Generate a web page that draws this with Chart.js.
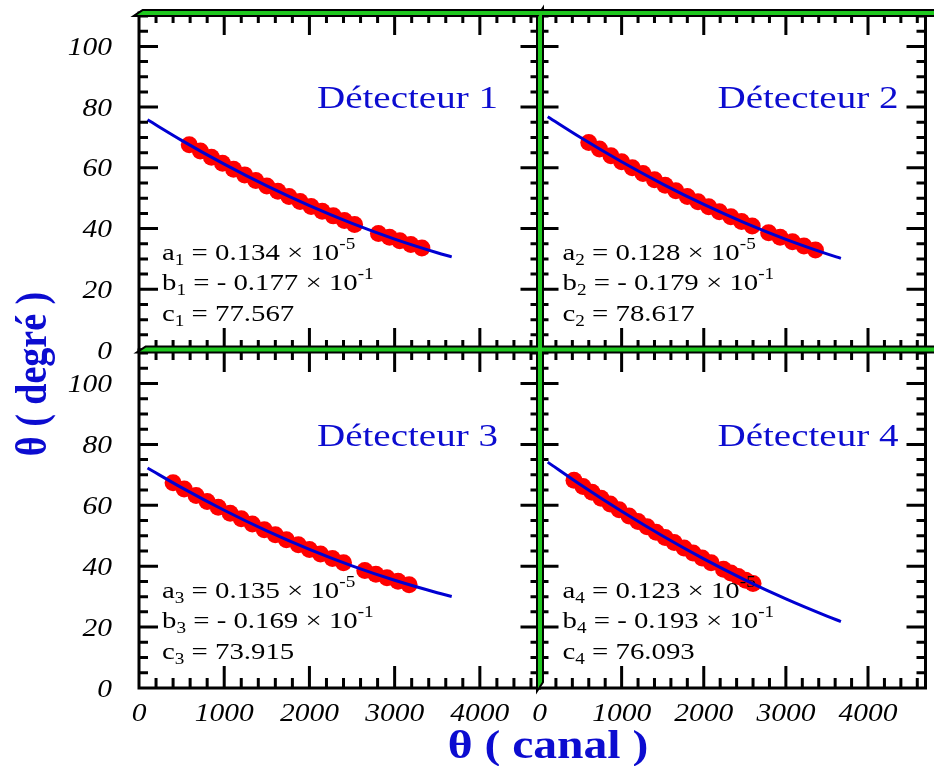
<!DOCTYPE html>
<html><head><meta charset="utf-8">
<script src="https://cdn.jsdelivr.net/npm/chart.js@4.4.1/dist/chart.umd.min.js"></script>
<style>
html,body{margin:0;padding:0;background:#fff;overflow:hidden}
#wrap{position:relative;width:934px;height:766px;background:#fff}
canvas{position:absolute;left:0;top:0}
</style></head><body><div id="wrap">
<canvas id="c0" width="934" height="766"></canvas>
<canvas id="c1" width="934" height="766"></canvas>
<canvas id="c2" width="934" height="766"></canvas>
<canvas id="c3" width="934" height="766"></canvas>
</div>
<script>
// ---------- data ----------
const xTickLabels = [0, 1000, 2000, 3000, 4000];
const yTickLabels = [0, 20, 40, 60, 80, 100];
const detectorNames = ['Détecteur 1', 'Détecteur 2', 'Détecteur 3', 'Détecteur 4'];
const xTitle = 'θ ( canal )';
const yTitle = 'θ ( degré )';

const canal1 = [590,720,850,980,1110,1240,1370,1500,1630,1760,1890,2020,2150,2280,2410,2530,2810,2940,3060,3190,3320];
const theta1 = [67.59,65.52,63.49,61.51,59.57,57.68,55.83,54.03,52.28,50.57,48.90,47.28,45.71,44.18,42.69,41.36,38.41,37.11,35.95,34.74,33.57];
const canal2 = [600,730,870,1000,1130,1260,1400,1530,1660,1800,1930,2060,2190,2330,2460,2590,2790,2930,3080,3220,3360];
const theta2 = [68.34,66.23,64.01,62.00,60.02,58.10,56.07,54.23,52.43,50.54,48.84,47.18,45.56,43.86,42.33,40.84,38.64,37.16,35.63,34.25,32.92];
const canal3 = [400,530,670,800,930,1070,1200,1330,1470,1600,1730,1870,2000,2130,2270,2400,2650,2780,2910,3040,3170];
const theta3 = [67.37,65.34,63.20,61.26,59.37,57.38,55.58,53.83,51.99,50.33,48.72,47.03,45.52,44.04,42.51,41.13,38.61,37.37,36.17,35.02,33.91];
const canal4 = [420,530,640,750,860,970,1090,1200,1310,1420,1530,1640,1760,1870,1980,2090,2240,2330,2420,2510,2600];
const theta4 = [68.20,66.21,64.25,62.31,60.41,58.53,56.52,54.70,52.92,51.17,49.44,47.75,45.94,44.30,42.70,41.13,39.03,37.80,36.59,35.40,34.30];

const fitCanal  = [100, 500, 1000, 1500, 2000, 2500, 3000, 3500, 3670];
const fitTheta1 = [75.81, 69.05, 61.21, 54.03, 47.53, 41.69, 36.53, 32.03, 30.66];
const fitTheta2 = [76.84, 69.99, 62.00, 54.65, 47.94, 41.87, 36.44, 31.65, 30.16];
const fitTheta3 = [72.24, 65.80, 58.37, 51.60, 45.52, 40.10, 35.37, 31.30, 30.07];
const fitTheta4 = [74.18, 66.75, 58.02, 49.91, 42.41, 35.53, 29.26, 23.61, 21.83];

const coefA = ['0.134', '0.128', '0.135', '0.123'];
const coefB = ['0.177', '0.179', '0.169', '0.193'];
const coefC = ['77.567', '78.617', '73.915', '76.093'];
const expA = '-5';
const expB = '-1';

// ---------- layout / style ----------
const X_MAX = 4700, Y_MAX = 111;
const BLUE_TXT = '#0c0cd0';
const GREEN = '#1ec81e';
const SERIF = '"Liberation Serif", "Times New Roman", serif';

const panels = [
  {cv:'c0', l:139,   t:13,  r:539.5, b:350, canal:canal1, theta:theta1, fit:fitTheta1, yLab:true,  xLab:false},
  {cv:'c1', l:539.5, t:13,  r:932,   b:350, canal:canal2, theta:theta2, fit:fitTheta2, yLab:false, xLab:false},
  {cv:'c2', l:139,   t:350, r:539.5, b:688, canal:canal3, theta:theta3, fit:fitTheta3, yLab:true,  xLab:true},
  {cv:'c3', l:539.5, t:350, r:932,   b:688, canal:canal4, theta:theta4, fit:fitTheta4, yLab:false, xLab:true, global:true},
];

function txt(ctx, s, x, y, font, color, align, sx) {
  ctx.save();
  ctx.font = font; ctx.fillStyle = color; ctx.textBaseline = 'alphabetic'; ctx.textAlign = 'left';
  const w = ctx.measureText(s).width * sx;
  const x0 = align === 'right' ? x - w : align === 'center' ? x - w / 2 : x;
  ctx.translate(x0, y); ctx.scale(sx, 1);
  ctx.fillText(s, 0, 0);
  ctx.restore();
  return x0 + w;
}

function drawAnnot(chart, p, i) {
  const ctx = chart.ctx, a = chart.chartArea;
  const n = String(i + 1);
  const MAIN = '24px ' + SERIF, SMALL = '16px ' + SERIF, SX = 1.2;
  const rows = [
    [['a',0],[n,1],[' = ' + coefA[i] + ' × 10',0],[expA,2]],
    [['b',0],[n,1],[' = - ' + coefB[i] + ' × 10',0],[expB,2]],
    [['c',0],[n,1],[' = ' + coefC[i],0]],
  ];
  const base = [a.bottom - 90, a.bottom - 60, a.bottom - 29];
  rows.forEach((row, r) => {
    let x = a.left + 23;
    row.forEach(([s, k]) => {
      const dy = k === 1 ? 5 : k === 2 ? -11 : 0;
      x = txt(ctx, s, x, base[r] + dy, k ? SMALL : MAIN, '#000', 'left', SX);
    });
  });
  txt(ctx, detectorNames[i], a.left + 178, a.bottom - 242, '32px ' + SERIF, BLUE_TXT, 'left', 1.22);
}

function drawFrame(chart, p) {
  const ctx = chart.ctx, a = chart.chartArea, xs = chart.scales.x, ys = chart.scales.y;
  ctx.save();
  ctx.strokeStyle = '#000'; ctx.lineWidth = 3; ctx.lineCap = 'butt';
  ctx.beginPath();
  for (let v = 200; v < X_MAX; v += 200) {
    const px = xs.getPixelForValue(v);
    const len = v % 1000 === 0 ? 22 : 10;
    ctx.moveTo(px, a.bottom); ctx.lineTo(px, a.bottom - len);
    ctx.moveTo(px, a.top); ctx.lineTo(px, a.top + len);
  }
  for (let v = 5; v < Y_MAX; v += 5) {
    const py = ys.getPixelForValue(v);
    const len = v % 20 === 0 ? 19 : 9;
    ctx.moveTo(a.left, py); ctx.lineTo(a.left + len, py);
    ctx.moveTo(a.right, py); ctx.lineTo(a.right - len, py);
  }
  ctx.stroke();
  ctx.beginPath();
  ctx.rect(a.left, a.top, a.right - a.left, a.bottom - a.top);
  ctx.stroke();
  const LF = 'italic 25px ' + SERIF;
  if (p.yLab) {
    yTickLabels.forEach(v => {
      const py = ys.getPixelForValue(v);
      txt(ctx, String(v), 112, py + 8.5, LF, '#000', 'right', 1.18);
    });
  }
  if (p.xLab) {
    xTickLabels.forEach(v => {
      const px = xs.getPixelForValue(v);
      txt(ctx, String(v), px, 721, LF, '#000', 'center', 1.18);
    });
  }
  ctx.restore();
}

function drawGlobal(chart) {
  const ctx = chart.ctx;
  ctx.save();
  const polys = [
    [[137,15],[143,11],[934,11],[934,15]],
    [[140,351.5],[146,347.5],[934,347.5],[934,351.5]],
    [[538,17],[542,11],[542,682],[538,688]],
  ];
  const path = pts => { ctx.beginPath(); pts.forEach(([x,y],k) => k ? ctx.lineTo(x,y) : ctx.moveTo(x,y)); ctx.closePath(); };
  ctx.strokeStyle = '#000'; ctx.lineWidth = 4; ctx.lineJoin = 'miter';
  polys.forEach(pts => { path(pts); ctx.stroke(); });
  ctx.fillStyle = GREEN;
  polys.forEach(pts => { path(pts); ctx.fill(); });
  // axis titles
  txt(ctx, xTitle, 548, 758, 'bold 40px ' + SERIF, BLUE_TXT, 'center', 1.19);
  ctx.save();
  ctx.translate(46, 374); ctx.rotate(-Math.PI / 2); ctx.scale(1, 1.19);
  ctx.font = 'bold 38px ' + SERIF; ctx.fillStyle = BLUE_TXT; ctx.textAlign = 'center'; ctx.textBaseline = 'alphabetic';
  ctx.fillText(yTitle, 0, 0);
  ctx.restore();
  ctx.restore();
}

panels.forEach((p, i) => {
  const plugin = {
    id: 'frame' + i,
    beforeDatasetDraw(chart, args) { if (args.index === 0) drawAnnot(chart, p, i); },
    afterDraw(chart) { drawFrame(chart, p); if (p.global) drawGlobal(chart); }
  };
  new Chart(document.getElementById(p.cv), {
    type: 'scatter',
    data: {
      datasets: [
        { type: 'line', data: fitCanal.map((x, k) => ({x, y: p.fit[k]})),
          borderColor: '#0000d2', borderWidth: 3, pointRadius: 0, fill: false,
          cubicInterpolationMode: 'monotone' },
        { type: 'scatter', data: p.canal.map((x, k) => ({x, y: p.theta[k]})),
          backgroundColor: '#ff0000', borderWidth: 0, pointRadius: 8.5, showLine: false }
      ]
    },
    options: {
      responsive: false, animation: false, events: [],
      layout: { padding: { left: p.l, top: p.t, right: 934 - p.r, bottom: 766 - p.b } },
      scales: {
        x: { type: 'linear', min: 0, max: X_MAX, display: false },
        y: { type: 'linear', min: 0, max: Y_MAX, display: false }
      },
      plugins: { legend: { display: false }, tooltip: { enabled: false } }
    },
    plugins: [plugin]
  });
});
</script>
</body></html>
